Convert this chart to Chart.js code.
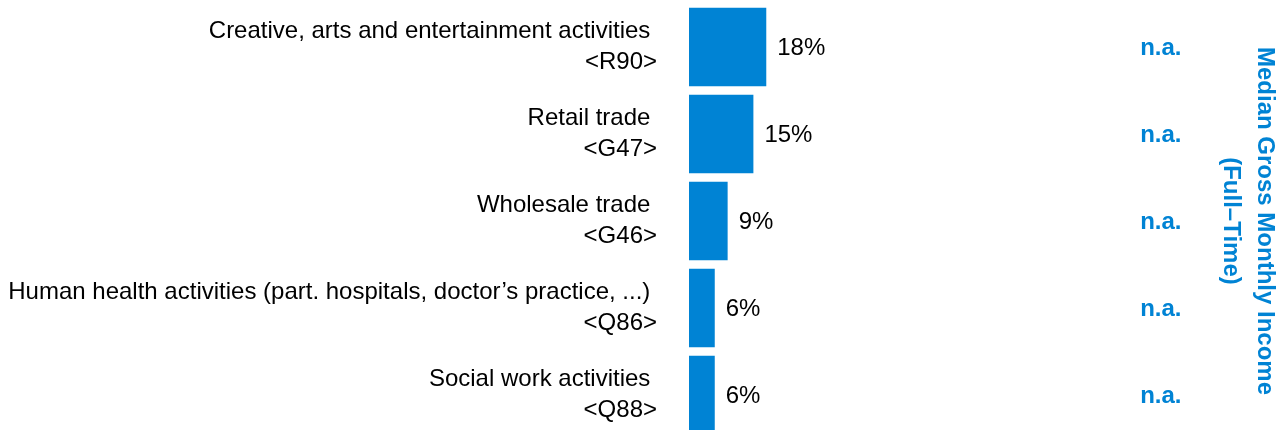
<!DOCTYPE html>
<html>
<head>
<meta charset="utf-8">
<script src="https://cdn.jsdelivr.net/npm/chart.js@4/dist/chart.umd.min.js"></script>
<style>
  html, body { margin: 0; padding: 0; background: #fff; overflow: hidden; }
  #wrap { width: 1282px; height: 442px; position: relative; }
</style>
</head>
<body>
<div id="wrap"><canvas id="sectorChart"></canvas></div>
<script>
// Sector labels (two lines each: name + code)
const sectors = [
    ['Creative, arts and entertainment activities ', '<R90>'],
    ['Retail trade ', '<G47>'],
    ['Wholesale trade ', '<G46>'],
    ['Human health activities (part. hospitals, doctor\u2019s practice, ...) ', '<Q86>'],
    ['Social work activities ', '<Q88>']
];
const shares = [18, 15, 9, 6, 6];
const incomeLabels = ['n.a.', 'n.a.', 'n.a.', 'n.a.', 'n.a.'];

const blue = '#0083d4';
const fontFamily = '"Liberation Sans", Arial, sans-serif';

// Percent text after each bar + n.a. column
const barLabels = {
    id: 'barLabels',
    afterDatasetsDraw(chart) {
        const ctx = chart.ctx;
        const meta = chart.getDatasetMeta(0);
        const area = chart.chartArea;
        ctx.save();
        ctx.textBaseline = 'middle';
        meta.data.forEach((bar, i) => {
            ctx.font = '24px ' + fontFamily;
            ctx.fillStyle = '#000';
            ctx.textAlign = 'left';
            ctx.fillText(shares[i] + '%', bar.x + 11, bar.y + 1);
            ctx.font = 'bold 24px ' + fontFamily;
            ctx.fillStyle = blue;
            ctx.textAlign = 'center';
            ctx.fillText(incomeLabels[i], area.right - 39, bar.y + 1);
        });
        ctx.restore();
    }
};

const ctx = document.getElementById('sectorChart').getContext('2d');
new Chart(ctx, {
    type: 'bar',
    data: {
        labels: sectors,
        datasets: [{
            data: shares,
            backgroundColor: blue,
            borderWidth: 0,
            categoryPercentage: 1,
            barPercentage: 0.9
        }]
    },
    options: {
        indexAxis: 'y',
        responsive: true,
        maintainAspectRatio: false,
        animation: false,
        layout: {
            padding: { top: 3.5, bottom: 3.5, left: 0, right: 0 }
        },
        plugins: {
            legend: { display: false },
            tooltip: { enabled: false },
            title: {
                display: true,
                position: 'right',
                text: ['Median Gross Monthly Income', '(Full\u2013Time)'],
                color: blue,
                font: { family: fontFamily, size: 24, weight: 'bold', lineHeight: 1.42 },
                padding: { top: 0, bottom: 14 }
            }
        },
        scales: {
            x: {
                display: false,
                min: 0,
                max: 119
            },
            y: {
                afterFit(scale) {
                    scale.width = 689;
                    scale.paddingTop = 0;
                    scale.paddingBottom = 0;
                },
                grid: { display: false, drawTicks: false },
                border: { display: false },
                ticks: {
                    color: '#000',
                    padding: 32,
                    font: { family: fontFamily, size: 24, lineHeight: 1.29 }
                }
            }
        }
    },
    plugins: [barLabels]
});
</script>
</body>
</html>
